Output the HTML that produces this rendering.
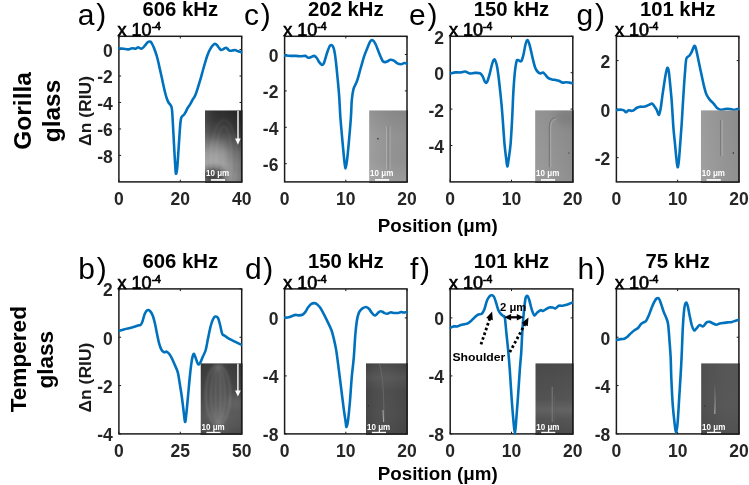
<!DOCTYPE html>
<html><head><meta charset="utf-8"><style>
html,body{margin:0;padding:0;background:#fff;}
svg{display:block;will-change:transform;}
text{font-family:"Liberation Sans",sans-serif;fill:#000;}
.tk{font-size:17.5px;font-weight:bold;fill:#262626;}
.ex{font-size:18px;fill:#000;stroke:#000;stroke-width:0.7px;}
.ti{font-size:20.3px;font-weight:bold;}
.lt{font-size:30px;}
.yl{font-size:17px;font-weight:bold;fill:#1a1a1a;}
.rl{font-size:24.5px;font-weight:bold;}
.rl2{font-size:22.6px;font-weight:bold;}
.xl{font-size:18.8px;font-weight:bold;fill:#000;}
.an{font-size:11.6px;font-weight:bold;}
.sb{font-size:9.2px;font-weight:bold;fill:#fff;}
.an2{font-size:11.5px;font-weight:bold;}
</style></head><body>
<svg width="749" height="485" viewBox="0 0 749 485">
<defs>
<clipPath id="clipa"><rect x="118.30" y="33.30" width="124.00" height="150.10"/></clipPath>
<clipPath id="ica"><rect x="205.00" y="110.30" width="36.70" height="71.60"/></clipPath>
<clipPath id="clipc"><rect x="284.00" y="33.30" width="123.60" height="150.10"/></clipPath>
<clipPath id="icc"><rect x="369.10" y="110.30" width="37.90" height="71.60"/></clipPath>
<clipPath id="clipe"><rect x="449.60" y="33.30" width="123.80" height="150.10"/></clipPath>
<clipPath id="ice"><rect x="535.10" y="110.20" width="37.70" height="71.70"/></clipPath>
<clipPath id="clipg"><rect x="615.80" y="33.30" width="123.70" height="150.10"/></clipPath>
<clipPath id="icg"><rect x="700.80" y="110.20" width="38.10" height="71.70"/></clipPath>
<clipPath id="clipb"><rect x="118.30" y="285.90" width="124.00" height="149.50"/></clipPath>
<clipPath id="icb"><rect x="200.50" y="363.20" width="41.20" height="70.70"/></clipPath>
<clipPath id="clipd"><rect x="284.00" y="285.90" width="123.60" height="149.50"/></clipPath>
<clipPath id="icd"><rect x="366.00" y="363.20" width="41.00" height="70.70"/></clipPath>
<clipPath id="clipf"><rect x="449.60" y="285.90" width="123.80" height="149.50"/></clipPath>
<clipPath id="icf"><rect x="535.30" y="363.20" width="37.50" height="70.70"/></clipPath>
<clipPath id="cliph"><rect x="615.80" y="285.90" width="123.70" height="149.50"/></clipPath>
<clipPath id="ich"><rect x="701.10" y="363.20" width="37.80" height="70.70"/></clipPath>
<linearGradient id="ga" x1="0" y1="0" x2="0" y2="1"><stop offset="0" stop-color="#2e2e2e"/><stop offset="0.15" stop-color="#363636"/><stop offset="0.3" stop-color="#484848"/><stop offset="0.45" stop-color="#6a6a6a"/><stop offset="0.6" stop-color="#8c8c8c"/><stop offset="0.75" stop-color="#a0a0a0"/><stop offset="0.9" stop-color="#a4a4a4"/><stop offset="1" stop-color="#969696"/></linearGradient><linearGradient id="gax" x1="0" y1="0" x2="1" y2="0"><stop offset="0" stop-color="#fff" stop-opacity="0.10"/><stop offset="0.5" stop-color="#000" stop-opacity="0"/><stop offset="1" stop-color="#000" stop-opacity="0.22"/></linearGradient>
<linearGradient id="gc" x1="0" y1="0" x2="0" y2="1"><stop offset="0" stop-color="#8a8a8a"/><stop offset="0.35" stop-color="#969696"/><stop offset="0.7" stop-color="#959595"/><stop offset="1" stop-color="#a0a0a0"/></linearGradient><linearGradient id="gcx" x1="0" y1="0" x2="1" y2="0"><stop offset="0" stop-color="#fff" stop-opacity="0.08"/><stop offset="1" stop-color="#000" stop-opacity="0.04"/></linearGradient>
<linearGradient id="ge" x1="0" y1="0" x2="0" y2="1"><stop offset="0" stop-color="#8e8e8e"/><stop offset="0.5" stop-color="#939393"/><stop offset="1" stop-color="#979797"/></linearGradient><linearGradient id="gex" x1="0" y1="0" x2="1" y2="0"><stop offset="0" stop-color="#fff" stop-opacity="0.05"/><stop offset="1" stop-color="#000" stop-opacity="0.06"/></linearGradient>
<linearGradient id="gg" x1="0" y1="0" x2="0" y2="1"><stop offset="0" stop-color="#959595"/><stop offset="1" stop-color="#999"/></linearGradient><linearGradient id="ggx" x1="0" y1="0" x2="1" y2="0"><stop offset="0" stop-color="#fff" stop-opacity="0.07"/><stop offset="1" stop-color="#000" stop-opacity="0.06"/></linearGradient>
<linearGradient id="gb" x1="0" y1="0" x2="0" y2="1"><stop offset="0" stop-color="#383838"/><stop offset="0.2" stop-color="#404040"/><stop offset="0.5" stop-color="#4c4c4c"/><stop offset="0.75" stop-color="#5a5a5a"/><stop offset="0.9" stop-color="#555"/><stop offset="1" stop-color="#4c4c4c"/></linearGradient><linearGradient id="gbx" x1="0" y1="0" x2="1" y2="0"><stop offset="0" stop-color="#000" stop-opacity="0.05"/><stop offset="0.5" stop-color="#fff" stop-opacity="0.06"/><stop offset="1" stop-color="#000" stop-opacity="0.02"/></linearGradient>
<linearGradient id="gd" x1="0" y1="0" x2="0" y2="1"><stop offset="0" stop-color="#454545"/><stop offset="0.2" stop-color="#555"/><stop offset="0.4" stop-color="#4a4a4a"/><stop offset="0.7" stop-color="#4c4c4c"/><stop offset="1" stop-color="#474747"/></linearGradient><linearGradient id="gdx" x1="0" y1="0" x2="1" y2="0"><stop offset="0" stop-color="#000" stop-opacity="0.08"/><stop offset="0.5" stop-color="#fff" stop-opacity="0.03"/><stop offset="1" stop-color="#000" stop-opacity="0.03"/></linearGradient>
<linearGradient id="gf" x1="0" y1="0" x2="0" y2="1"><stop offset="0" stop-color="#4c4c4c"/><stop offset="0.5" stop-color="#555"/><stop offset="0.66" stop-color="#646464"/><stop offset="0.8" stop-color="#555"/><stop offset="1" stop-color="#4c4c4c"/></linearGradient><linearGradient id="gfx" x1="0" y1="0" x2="1" y2="0"><stop offset="0" stop-color="#000" stop-opacity="0.04"/><stop offset="1" stop-color="#000" stop-opacity="0.0"/></linearGradient>
<linearGradient id="gh" x1="0" y1="0" x2="0" y2="1"><stop offset="0" stop-color="#535353"/><stop offset="0.6" stop-color="#555"/><stop offset="1" stop-color="#4e4e4e"/></linearGradient><linearGradient id="ghx" x1="0" y1="0" x2="1" y2="0"><stop offset="0" stop-color="#000" stop-opacity="0.06"/><stop offset="1" stop-color="#fff" stop-opacity="0.02"/></linearGradient>
<linearGradient id="ghl" x1="0" y1="0" x2="0" y2="1"><stop offset="0" stop-color="#5a5a5a"/><stop offset="1" stop-color="#aaa"/></linearGradient>
<filter id="blur1" x="-20%" y="-20%" width="140%" height="140%"><feGaussianBlur stdDeviation="0.8"/></filter><filter id="blur2" x="-50%" y="-50%" width="200%" height="200%"><feGaussianBlur stdDeviation="3"/></filter>
</defs>
<rect width="749" height="485" fill="#fff"/>
<text x="0" y="0"></text>
<line x1="118.90" y1="181.90" x2="118.90" y2="179.70" stroke="#1c1c1c" stroke-width="1"/>
<line x1="118.90" y1="36.30" x2="118.90" y2="38.50" stroke="#1c1c1c" stroke-width="1"/>
<text x="118.90" y="205.20" text-anchor="middle" class="tk">0</text>
<line x1="180.30" y1="181.90" x2="180.30" y2="179.70" stroke="#1c1c1c" stroke-width="1"/>
<line x1="180.30" y1="36.30" x2="180.30" y2="38.50" stroke="#1c1c1c" stroke-width="1"/>
<text x="180.30" y="205.20" text-anchor="middle" class="tk">20</text>
<line x1="241.70" y1="181.90" x2="241.70" y2="179.70" stroke="#1c1c1c" stroke-width="1"/>
<line x1="241.70" y1="36.30" x2="241.70" y2="38.50" stroke="#1c1c1c" stroke-width="1"/>
<text x="241.70" y="205.20" text-anchor="middle" class="tk">40</text>
<line x1="118.90" y1="49.54" x2="121.10" y2="49.54" stroke="#1c1c1c" stroke-width="1"/>
<line x1="241.70" y1="49.54" x2="239.50" y2="49.54" stroke="#1c1c1c" stroke-width="1"/>
<text x="112.70" y="56.94" text-anchor="end" class="tk">0</text>
<line x1="118.90" y1="76.01" x2="121.10" y2="76.01" stroke="#1c1c1c" stroke-width="1"/>
<line x1="241.70" y1="76.01" x2="239.50" y2="76.01" stroke="#1c1c1c" stroke-width="1"/>
<text x="112.70" y="83.41" text-anchor="end" class="tk">-2</text>
<line x1="118.90" y1="102.48" x2="121.10" y2="102.48" stroke="#1c1c1c" stroke-width="1"/>
<line x1="241.70" y1="102.48" x2="239.50" y2="102.48" stroke="#1c1c1c" stroke-width="1"/>
<text x="112.70" y="109.88" text-anchor="end" class="tk">-4</text>
<line x1="118.90" y1="128.95" x2="121.10" y2="128.95" stroke="#1c1c1c" stroke-width="1"/>
<line x1="241.70" y1="128.95" x2="239.50" y2="128.95" stroke="#1c1c1c" stroke-width="1"/>
<text x="112.70" y="136.35" text-anchor="end" class="tk">-6</text>
<line x1="118.90" y1="155.43" x2="121.10" y2="155.43" stroke="#1c1c1c" stroke-width="1"/>
<line x1="241.70" y1="155.43" x2="239.50" y2="155.43" stroke="#1c1c1c" stroke-width="1"/>
<text x="112.70" y="162.83" text-anchor="end" class="tk">-8</text>
<rect x="118.90" y="36.30" width="122.80" height="145.60" fill="none" stroke="#1c1c1c" stroke-width="1.5"/>
<path d="M118.50,48.20 C119.08,48.27 120.83,48.47 122.00,48.60 C123.17,48.73 124.38,48.87 125.50,49.00 C126.62,49.13 127.78,49.47 128.70,49.40 C129.62,49.33 130.28,48.78 131.00,48.60 C131.72,48.42 132.25,48.27 133.00,48.30 C133.75,48.33 134.70,48.95 135.50,48.80 C136.30,48.65 137.13,47.55 137.80,47.40 C138.47,47.25 138.93,47.67 139.50,47.90 C140.07,48.13 140.55,48.88 141.20,48.80 C141.85,48.72 142.68,48.07 143.40,47.40 C144.12,46.73 144.83,45.60 145.50,44.80 C146.17,44.00 146.77,43.13 147.40,42.60 C148.03,42.07 148.73,41.73 149.30,41.60 C149.87,41.47 150.35,41.43 150.80,41.80 C151.25,42.17 151.53,42.93 152.00,43.80 C152.47,44.67 153.05,45.72 153.60,47.00 C154.15,48.28 154.75,49.92 155.30,51.50 C155.85,53.08 156.40,54.75 156.90,56.50 C157.40,58.25 157.85,60.08 158.30,62.00 C158.75,63.92 159.15,66.00 159.60,68.00 C160.05,70.00 160.53,71.92 161.00,74.00 C161.47,76.08 161.93,78.33 162.40,80.50 C162.87,82.67 163.33,84.92 163.80,87.00 C164.27,89.08 164.70,91.08 165.20,93.00 C165.70,94.92 166.25,96.92 166.80,98.50 C167.35,100.08 167.92,101.45 168.50,102.50 C169.08,103.55 169.80,104.05 170.30,104.80 C170.80,105.55 171.18,105.80 171.50,107.00 C171.82,108.20 171.98,109.50 172.20,112.00 C172.42,114.50 172.58,118.17 172.80,122.00 C173.02,125.83 173.25,130.33 173.50,135.00 C173.75,139.67 174.02,145.00 174.30,150.00 C174.58,155.00 174.93,161.05 175.20,165.00 C175.47,168.95 175.57,173.20 175.90,173.70 C176.23,174.20 176.77,171.95 177.20,168.00 C177.63,164.05 178.08,156.00 178.50,150.00 C178.92,144.00 179.37,136.67 179.70,132.00 C180.03,127.33 180.23,124.40 180.50,122.00 C180.77,119.60 180.95,118.63 181.30,117.60 C181.65,116.57 182.12,116.32 182.60,115.80 C183.08,115.28 183.70,115.10 184.20,114.50 C184.70,113.90 185.08,113.18 185.60,112.20 C186.12,111.22 186.70,109.67 187.30,108.60 C187.90,107.53 188.62,106.70 189.20,105.80 C189.78,104.90 190.25,104.20 190.80,103.20 C191.35,102.20 191.93,100.78 192.50,99.80 C193.07,98.82 193.67,98.22 194.20,97.30 C194.73,96.38 195.20,95.55 195.70,94.30 C196.20,93.05 196.65,91.52 197.20,89.80 C197.75,88.08 198.37,86.08 199.00,84.00 C199.63,81.92 200.33,79.63 201.00,77.30 C201.67,74.97 202.33,72.38 203.00,70.00 C203.67,67.62 204.33,65.25 205.00,63.00 C205.67,60.75 206.30,58.50 207.00,56.50 C207.70,54.50 208.45,52.58 209.20,51.00 C209.95,49.42 210.70,48.12 211.50,47.00 C212.30,45.88 213.33,44.80 214.00,44.30 C214.67,43.80 215.00,43.85 215.50,44.00 C216.00,44.15 216.42,44.57 217.00,45.20 C217.58,45.83 218.37,47.03 219.00,47.80 C219.63,48.57 220.22,49.50 220.80,49.80 C221.38,50.10 221.88,49.85 222.50,49.60 C223.12,49.35 223.92,48.60 224.50,48.30 C225.08,48.00 225.50,47.72 226.00,47.80 C226.50,47.88 227.00,48.38 227.50,48.80 C228.00,49.22 228.42,49.97 229.00,50.30 C229.58,50.63 230.33,50.78 231.00,50.80 C231.67,50.82 232.33,50.53 233.00,50.40 C233.67,50.27 234.25,49.90 235.00,50.00 C235.75,50.10 236.67,50.70 237.50,51.00 C238.33,51.30 239.28,51.60 240.00,51.80 C240.72,52.00 241.50,52.13 241.80,52.20" fill="none" stroke="#0072BD" stroke-width="2.6" stroke-linejoin="round" stroke-linecap="round" clip-path="url(#clipa)"/>
<g class="inset" clip-path="url(#ica)">
<rect x="205.00" y="110.30" width="36.70" height="71.60" fill="url(#ga)"/>
<rect x="205.00" y="110.30" width="36.70" height="71.60" fill="url(#gax)"/>
<ellipse cx="213" cy="176" rx="12" ry="8" fill="#1a1a1a" fill-opacity="0.7" filter="url(#blur2)"/><ellipse cx="216" cy="152" rx="9" ry="12" fill="#fff" fill-opacity="0.12" filter="url(#blur2)"/><rect x="232" y="125" width="10" height="50" fill="#000" fill-opacity="0.10" filter="url(#blur2)"/><g fill="none" stroke="#fff" stroke-opacity="0.12" stroke-width="1.2" filter="url(#blur1)"><ellipse cx="224" cy="160" rx="13" ry="40"/><ellipse cx="224" cy="160" rx="8" ry="34"/></g><line x1="238.0" y1="110.8" x2="238.0" y2="139.5" stroke="#fff" stroke-width="1.4"/><polygon points="235.1,138.6 240.7,138.6 237.9,144.8" fill="#fff"/>
<text x="206.00" y="176.10" class="sb" textLength="23.2" lengthAdjust="spacingAndGlyphs">10 μm</text>
<rect x="210.90" y="179.10" width="14.10" height="1.7" fill="#fff"/>
</g>
<path d="M241.70,110.30 L241.70,181.90 L205.00,181.90" fill="none" stroke="#1c1c1c" stroke-width="1.5"/>
<text x="117.60" y="36.00" class="ex">x 10<tspan font-size="10.5" dy="-5.8">-4</tspan></text>
<text x="180.30" y="15.60" text-anchor="middle" class="ti">606 kHz</text>
<text x="77.80" y="24.90" class="lt">a<tspan dx="1.7">)</tspan></text>
<line x1="284.60" y1="181.90" x2="284.60" y2="179.70" stroke="#1c1c1c" stroke-width="1"/>
<line x1="284.60" y1="36.30" x2="284.60" y2="38.50" stroke="#1c1c1c" stroke-width="1"/>
<text x="284.60" y="205.20" text-anchor="middle" class="tk">0</text>
<line x1="345.80" y1="181.90" x2="345.80" y2="179.70" stroke="#1c1c1c" stroke-width="1"/>
<line x1="345.80" y1="36.30" x2="345.80" y2="38.50" stroke="#1c1c1c" stroke-width="1"/>
<text x="345.80" y="205.20" text-anchor="middle" class="tk">10</text>
<line x1="407.00" y1="181.90" x2="407.00" y2="179.70" stroke="#1c1c1c" stroke-width="1"/>
<line x1="407.00" y1="36.30" x2="407.00" y2="38.50" stroke="#1c1c1c" stroke-width="1"/>
<text x="407.00" y="205.20" text-anchor="middle" class="tk">20</text>
<line x1="284.60" y1="54.50" x2="286.80" y2="54.50" stroke="#1c1c1c" stroke-width="1"/>
<line x1="407.00" y1="54.50" x2="404.80" y2="54.50" stroke="#1c1c1c" stroke-width="1"/>
<text x="278.40" y="61.90" text-anchor="end" class="tk">0</text>
<line x1="284.60" y1="90.90" x2="286.80" y2="90.90" stroke="#1c1c1c" stroke-width="1"/>
<line x1="407.00" y1="90.90" x2="404.80" y2="90.90" stroke="#1c1c1c" stroke-width="1"/>
<text x="278.40" y="98.30" text-anchor="end" class="tk">-2</text>
<line x1="284.60" y1="127.30" x2="286.80" y2="127.30" stroke="#1c1c1c" stroke-width="1"/>
<line x1="407.00" y1="127.30" x2="404.80" y2="127.30" stroke="#1c1c1c" stroke-width="1"/>
<text x="278.40" y="134.70" text-anchor="end" class="tk">-4</text>
<line x1="284.60" y1="163.70" x2="286.80" y2="163.70" stroke="#1c1c1c" stroke-width="1"/>
<line x1="407.00" y1="163.70" x2="404.80" y2="163.70" stroke="#1c1c1c" stroke-width="1"/>
<text x="278.40" y="171.10" text-anchor="end" class="tk">-6</text>
<rect x="284.60" y="36.30" width="122.40" height="145.60" fill="none" stroke="#1c1c1c" stroke-width="1.5"/>
<path d="M284.40,55.40 C285.42,55.48 288.60,55.82 290.50,55.90 C292.40,55.98 294.05,55.83 295.80,55.90 C297.55,55.97 299.40,56.30 301.00,56.30 C302.60,56.30 304.23,55.67 305.40,55.90 C306.57,56.13 307.12,57.48 308.00,57.70 C308.88,57.92 309.67,57.50 310.70,57.20 C311.73,56.90 313.18,55.77 314.20,55.90 C315.22,56.03 315.93,56.92 316.80,58.00 C317.67,59.08 318.53,61.23 319.40,62.40 C320.27,63.57 321.27,64.85 322.00,65.00 C322.73,65.15 323.22,64.47 323.80,63.30 C324.38,62.13 324.85,60.05 325.50,58.00 C326.15,55.95 326.97,53.03 327.70,51.00 C328.43,48.97 329.15,46.73 329.90,45.80 C330.65,44.87 331.52,44.82 332.20,45.40 C332.88,45.98 333.42,46.90 334.00,49.30 C334.58,51.70 335.12,55.13 335.70,59.80 C336.28,64.47 336.92,71.17 337.50,77.30 C338.08,83.43 338.72,89.90 339.20,96.60 C339.68,103.30 339.82,109.63 340.40,117.50 C340.98,125.37 342.03,136.50 342.70,143.80 C343.37,151.10 343.93,157.18 344.40,161.30 C344.87,165.42 345.08,168.50 345.50,168.50 C345.92,168.50 346.37,165.42 346.90,161.30 C347.43,157.18 348.03,151.10 348.70,143.80 C349.37,136.50 350.38,124.78 350.90,117.50 C351.42,110.22 351.35,104.90 351.80,100.10 C352.25,95.30 352.72,91.92 353.60,88.70 C354.48,85.48 355.93,84.17 357.10,80.80 C358.27,77.43 359.43,72.58 360.60,68.50 C361.77,64.42 362.93,59.80 364.10,56.30 C365.27,52.80 366.58,49.98 367.60,47.50 C368.62,45.02 369.38,42.62 370.20,41.40 C371.02,40.18 371.62,39.77 372.50,40.20 C373.38,40.63 374.42,41.90 375.50,44.00 C376.58,46.10 377.83,50.02 379.00,52.80 C380.17,55.58 381.48,59.15 382.50,60.70 C383.52,62.25 384.23,62.02 385.10,62.10 C385.97,62.18 386.82,61.58 387.70,61.20 C388.58,60.82 389.37,59.88 390.40,59.80 C391.43,59.72 392.73,60.12 393.90,60.70 C395.07,61.28 396.23,62.72 397.40,63.30 C398.57,63.88 399.73,64.25 400.90,64.20 C402.07,64.15 403.38,63.10 404.40,63.00 C405.42,62.90 406.57,63.50 407.00,63.60" fill="none" stroke="#0072BD" stroke-width="2.6" stroke-linejoin="round" stroke-linecap="round" clip-path="url(#clipc)"/>
<g class="inset" clip-path="url(#icc)">
<rect x="369.10" y="110.30" width="37.90" height="71.60" fill="url(#gc)"/>
<rect x="369.10" y="110.30" width="37.90" height="71.60" fill="url(#gcx)"/>
<line x1="386.6" y1="126.4" x2="386.6" y2="169.3" stroke="#b4b4b4" stroke-width="0.8"/><line x1="388.2" y1="126.4" x2="388.2" y2="169.3" stroke="#777" stroke-width="0.5"/><line x1="390.2" y1="126.4" x2="390.2" y2="169.3" stroke="#aaa" stroke-width="0.8"/><circle cx="377.9" cy="138.8" r="0.8" fill="#222"/>
<text x="370.10" y="176.10" class="sb" textLength="23.2" lengthAdjust="spacingAndGlyphs">10 μm</text>
<rect x="375.00" y="179.10" width="14.10" height="1.7" fill="#fff"/>
</g>
<path d="M407.00,110.30 L407.00,181.90 L369.10,181.90" fill="none" stroke="#1c1c1c" stroke-width="1.5"/>
<text x="283.30" y="36.00" class="ex">x 10<tspan font-size="10.5" dy="-5.8">-4</tspan></text>
<text x="345.80" y="15.60" text-anchor="middle" class="ti">202 kHz</text>
<text x="244.10" y="24.90" class="lt">c<tspan dx="1.7">)</tspan></text>
<line x1="450.20" y1="181.90" x2="450.20" y2="179.70" stroke="#1c1c1c" stroke-width="1"/>
<line x1="450.20" y1="36.30" x2="450.20" y2="38.50" stroke="#1c1c1c" stroke-width="1"/>
<text x="450.20" y="205.20" text-anchor="middle" class="tk">0</text>
<line x1="511.50" y1="181.90" x2="511.50" y2="179.70" stroke="#1c1c1c" stroke-width="1"/>
<line x1="511.50" y1="36.30" x2="511.50" y2="38.50" stroke="#1c1c1c" stroke-width="1"/>
<text x="511.50" y="205.20" text-anchor="middle" class="tk">10</text>
<line x1="572.80" y1="181.90" x2="572.80" y2="179.70" stroke="#1c1c1c" stroke-width="1"/>
<line x1="572.80" y1="36.30" x2="572.80" y2="38.50" stroke="#1c1c1c" stroke-width="1"/>
<text x="572.80" y="205.20" text-anchor="middle" class="tk">20</text>
<line x1="450.20" y1="36.30" x2="452.40" y2="36.30" stroke="#1c1c1c" stroke-width="1"/>
<line x1="572.80" y1="36.30" x2="570.60" y2="36.30" stroke="#1c1c1c" stroke-width="1"/>
<text x="444.00" y="43.70" text-anchor="end" class="tk">2</text>
<line x1="450.20" y1="72.70" x2="452.40" y2="72.70" stroke="#1c1c1c" stroke-width="1"/>
<line x1="572.80" y1="72.70" x2="570.60" y2="72.70" stroke="#1c1c1c" stroke-width="1"/>
<text x="444.00" y="80.10" text-anchor="end" class="tk">0</text>
<line x1="450.20" y1="109.10" x2="452.40" y2="109.10" stroke="#1c1c1c" stroke-width="1"/>
<line x1="572.80" y1="109.10" x2="570.60" y2="109.10" stroke="#1c1c1c" stroke-width="1"/>
<text x="444.00" y="116.50" text-anchor="end" class="tk">-2</text>
<line x1="450.20" y1="145.50" x2="452.40" y2="145.50" stroke="#1c1c1c" stroke-width="1"/>
<line x1="572.80" y1="145.50" x2="570.60" y2="145.50" stroke="#1c1c1c" stroke-width="1"/>
<text x="444.00" y="152.90" text-anchor="end" class="tk">-4</text>
<rect x="450.20" y="36.30" width="122.60" height="145.60" fill="none" stroke="#1c1c1c" stroke-width="1.5"/>
<path d="M450.60,73.40 C451.42,73.23 453.80,72.57 455.50,72.40 C457.20,72.23 459.20,72.55 460.80,72.40 C462.40,72.25 463.65,71.33 465.10,71.50 C466.55,71.67 467.88,73.17 469.50,73.40 C471.12,73.63 473.05,72.92 474.80,72.90 C476.55,72.88 478.68,72.72 480.00,73.30 C481.32,73.88 481.88,75.00 482.70,76.40 C483.52,77.80 484.18,80.73 484.90,81.70 C485.62,82.67 486.20,83.52 487.00,82.20 C487.80,80.88 488.82,76.95 489.70,73.80 C490.58,70.65 491.48,65.70 492.30,63.30 C493.12,60.90 493.87,59.12 494.60,59.40 C495.33,59.68 496.07,62.32 496.70,65.00 C497.33,67.68 497.82,71.12 498.40,75.50 C498.98,79.88 499.70,86.72 500.20,91.30 C500.70,95.88 501.00,98.63 501.40,103.00 C501.80,107.37 502.08,110.70 502.60,117.50 C503.12,124.30 503.88,136.78 504.50,143.80 C505.12,150.82 505.83,155.83 506.30,159.60 C506.77,163.37 506.95,166.17 507.30,166.40 C507.65,166.63 507.85,164.77 508.40,161.00 C508.95,157.23 509.97,151.05 510.60,143.80 C511.23,136.55 511.75,125.95 512.20,117.50 C512.65,109.05 512.88,100.38 513.30,93.10 C513.72,85.82 514.17,79.07 514.70,73.80 C515.23,68.53 515.92,63.78 516.50,61.50 C517.08,59.22 517.42,60.15 518.20,60.10 C518.98,60.05 520.32,62.13 521.20,61.20 C522.08,60.27 522.77,57.37 523.50,54.50 C524.23,51.63 524.90,46.38 525.60,44.00 C526.30,41.62 526.97,39.77 527.70,40.20 C528.43,40.63 529.18,43.63 530.00,46.60 C530.82,49.57 531.73,54.48 532.60,58.00 C533.47,61.52 534.32,65.37 535.20,67.70 C536.08,70.03 537.02,71.05 537.90,72.00 C538.78,72.95 539.63,73.30 540.50,73.40 C541.37,73.50 542.23,72.30 543.10,72.60 C543.97,72.90 544.82,74.27 545.70,75.20 C546.58,76.13 547.37,77.50 548.40,78.20 C549.43,78.90 550.73,79.12 551.90,79.40 C553.07,79.68 554.23,79.67 555.40,79.90 C556.57,80.13 557.73,80.35 558.90,80.80 C560.07,81.25 561.23,82.37 562.40,82.60 C563.57,82.83 564.73,82.20 565.90,82.20 C567.07,82.20 568.38,82.45 569.40,82.60 C570.42,82.75 571.57,83.02 572.00,83.10" fill="none" stroke="#0072BD" stroke-width="2.6" stroke-linejoin="round" stroke-linecap="round" clip-path="url(#clipe)"/>
<g class="inset" clip-path="url(#ice)">
<rect x="535.10" y="110.20" width="37.70" height="71.70" fill="url(#ge)"/>
<rect x="535.10" y="110.20" width="37.70" height="71.70" fill="url(#gex)"/>
<path d="M549.3,167 L549.3,126 Q549.6,119 555,117.5" fill="none" stroke="#666" stroke-width="0.7"/><path d="M550.7,167 L550.7,126 Q551,120.5 556,119" fill="none" stroke="#b0b0b0" stroke-width="0.8"/><ellipse cx="565" cy="118" rx="10" ry="8" fill="#000" fill-opacity="0.07" filter="url(#blur2)"/><circle cx="568.9" cy="153" r="0.6" fill="#222"/>
<text x="536.10" y="176.10" class="sb" textLength="23.2" lengthAdjust="spacingAndGlyphs">10 μm</text>
<rect x="541.00" y="179.10" width="14.10" height="1.7" fill="#fff"/>
</g>
<path d="M572.80,110.20 L572.80,181.90 L535.10,181.90" fill="none" stroke="#1c1c1c" stroke-width="1.5"/>
<text x="448.90" y="36.00" class="ex">x 10<tspan font-size="10.5" dy="-5.8">-4</tspan></text>
<text x="511.50" y="15.60" text-anchor="middle" class="ti">150 kHz</text>
<text x="409.10" y="24.90" class="lt">e<tspan dx="1.7">)</tspan></text>
<line x1="616.40" y1="181.90" x2="616.40" y2="179.70" stroke="#1c1c1c" stroke-width="1"/>
<line x1="616.40" y1="36.30" x2="616.40" y2="38.50" stroke="#1c1c1c" stroke-width="1"/>
<text x="616.40" y="205.20" text-anchor="middle" class="tk">0</text>
<line x1="677.65" y1="181.90" x2="677.65" y2="179.70" stroke="#1c1c1c" stroke-width="1"/>
<line x1="677.65" y1="36.30" x2="677.65" y2="38.50" stroke="#1c1c1c" stroke-width="1"/>
<text x="677.65" y="205.20" text-anchor="middle" class="tk">10</text>
<line x1="738.90" y1="181.90" x2="738.90" y2="179.70" stroke="#1c1c1c" stroke-width="1"/>
<line x1="738.90" y1="36.30" x2="738.90" y2="38.50" stroke="#1c1c1c" stroke-width="1"/>
<text x="738.90" y="205.20" text-anchor="middle" class="tk">20</text>
<line x1="616.40" y1="60.57" x2="618.60" y2="60.57" stroke="#1c1c1c" stroke-width="1"/>
<line x1="738.90" y1="60.57" x2="736.70" y2="60.57" stroke="#1c1c1c" stroke-width="1"/>
<text x="610.20" y="67.97" text-anchor="end" class="tk">2</text>
<line x1="616.40" y1="109.10" x2="618.60" y2="109.10" stroke="#1c1c1c" stroke-width="1"/>
<line x1="738.90" y1="109.10" x2="736.70" y2="109.10" stroke="#1c1c1c" stroke-width="1"/>
<text x="610.20" y="116.50" text-anchor="end" class="tk">0</text>
<line x1="616.40" y1="157.63" x2="618.60" y2="157.63" stroke="#1c1c1c" stroke-width="1"/>
<line x1="738.90" y1="157.63" x2="736.70" y2="157.63" stroke="#1c1c1c" stroke-width="1"/>
<text x="610.20" y="165.03" text-anchor="end" class="tk">-2</text>
<rect x="616.40" y="36.30" width="122.50" height="145.60" fill="none" stroke="#1c1c1c" stroke-width="1.5"/>
<path d="M616.40,110.20 C616.83,110.12 618.13,109.78 619.00,109.70 C619.87,109.62 620.72,109.55 621.60,109.70 C622.48,109.85 623.57,110.17 624.30,110.60 C625.03,111.03 625.28,112.37 626.00,112.30 C626.72,112.23 627.72,110.43 628.60,110.20 C629.48,109.97 630.42,110.90 631.30,110.90 C632.18,110.90 633.03,110.68 633.90,110.20 C634.77,109.72 635.48,108.58 636.50,108.00 C637.52,107.42 638.83,106.92 640.00,106.70 C641.17,106.48 642.33,106.87 643.50,106.70 C644.67,106.53 645.97,106.07 647.00,105.70 C648.03,105.33 648.88,104.85 649.70,104.50 C650.52,104.15 651.18,103.40 651.90,103.60 C652.62,103.80 653.20,104.65 654.00,105.70 C654.80,106.75 655.87,108.38 656.70,109.90 C657.53,111.42 658.32,115.20 659.00,114.80 C659.68,114.40 660.23,110.70 660.80,107.50 C661.37,104.30 661.88,99.27 662.40,95.60 C662.92,91.93 663.43,88.60 663.90,85.50 C664.37,82.40 664.77,79.50 665.20,77.00 C665.63,74.50 666.10,72.03 666.50,70.50 C666.90,68.97 667.22,67.63 667.60,67.80 C667.98,67.97 668.43,69.35 668.80,71.50 C669.17,73.65 669.47,77.45 669.80,80.70 C670.13,83.95 670.48,87.62 670.80,91.00 C671.12,94.38 671.40,97.00 671.70,101.00 C672.00,105.00 672.30,110.35 672.60,115.00 C672.90,119.65 673.10,124.08 673.50,128.90 C673.90,133.72 674.50,138.78 675.00,143.90 C675.50,149.02 676.07,155.72 676.50,159.60 C676.93,163.48 677.22,166.90 677.60,167.20 C677.98,167.50 678.37,165.28 678.80,161.40 C679.23,157.52 679.73,149.97 680.20,143.90 C680.67,137.83 681.17,131.48 681.60,125.00 C682.03,118.52 682.40,111.50 682.80,105.00 C683.20,98.50 683.60,91.83 684.00,86.00 C684.40,80.17 684.80,74.58 685.20,70.00 C685.60,65.42 685.72,60.88 686.40,58.50 C687.08,56.12 688.42,56.80 689.30,55.70 C690.18,54.60 690.87,53.55 691.70,51.90 C692.53,50.25 693.57,46.23 694.30,45.80 C695.03,45.37 695.37,46.68 696.10,49.30 C696.83,51.92 697.83,57.42 698.70,61.50 C699.57,65.58 700.42,69.70 701.30,73.80 C702.18,77.90 703.12,82.60 704.00,86.10 C704.88,89.60 705.58,92.47 706.60,94.80 C707.62,97.13 708.93,98.63 710.10,100.10 C711.27,101.57 712.43,102.28 713.60,103.60 C714.77,104.92 715.93,106.98 717.10,108.00 C718.27,109.02 719.43,109.50 720.60,109.70 C721.77,109.90 722.93,109.35 724.10,109.20 C725.27,109.05 726.43,108.80 727.60,108.80 C728.77,108.80 729.93,109.05 731.10,109.20 C732.27,109.35 733.37,109.77 734.60,109.70 C735.83,109.63 737.85,108.95 738.50,108.80" fill="none" stroke="#0072BD" stroke-width="2.6" stroke-linejoin="round" stroke-linecap="round" clip-path="url(#clipg)"/>
<g class="inset" clip-path="url(#icg)">
<rect x="700.80" y="110.20" width="38.10" height="71.70" fill="url(#gg)"/>
<rect x="700.80" y="110.20" width="38.10" height="71.70" fill="url(#ggx)"/>
<line x1="720.6" y1="120" x2="720.6" y2="156" stroke="#666" stroke-width="0.6"/><line x1="722.2" y1="120" x2="722.2" y2="156" stroke="#b0b0b0" stroke-width="0.9"/><circle cx="733.4" cy="153" r="0.7" fill="#222"/>
<text x="701.80" y="176.10" class="sb" textLength="23.2" lengthAdjust="spacingAndGlyphs">10 μm</text>
<rect x="706.70" y="179.10" width="14.10" height="1.7" fill="#fff"/>
</g>
<path d="M738.90,110.20 L738.90,181.90 L700.80,181.90" fill="none" stroke="#1c1c1c" stroke-width="1.5"/>
<text x="615.10" y="36.00" class="ex">x 10<tspan font-size="10.5" dy="-5.8">-4</tspan></text>
<text x="677.65" y="15.60" text-anchor="middle" class="ti">101 kHz</text>
<text x="576.60" y="24.90" class="lt">g<tspan dx="1.7">)</tspan></text>
<line x1="118.90" y1="433.90" x2="118.90" y2="431.70" stroke="#1c1c1c" stroke-width="1"/>
<line x1="118.90" y1="288.90" x2="118.90" y2="291.10" stroke="#1c1c1c" stroke-width="1"/>
<text x="118.90" y="457.20" text-anchor="middle" class="tk">0</text>
<line x1="180.30" y1="433.90" x2="180.30" y2="431.70" stroke="#1c1c1c" stroke-width="1"/>
<line x1="180.30" y1="288.90" x2="180.30" y2="291.10" stroke="#1c1c1c" stroke-width="1"/>
<text x="180.30" y="457.20" text-anchor="middle" class="tk">25</text>
<line x1="241.70" y1="433.90" x2="241.70" y2="431.70" stroke="#1c1c1c" stroke-width="1"/>
<line x1="241.70" y1="288.90" x2="241.70" y2="291.10" stroke="#1c1c1c" stroke-width="1"/>
<text x="241.70" y="457.20" text-anchor="middle" class="tk">50</text>
<line x1="118.90" y1="288.90" x2="121.10" y2="288.90" stroke="#1c1c1c" stroke-width="1"/>
<line x1="241.70" y1="288.90" x2="239.50" y2="288.90" stroke="#1c1c1c" stroke-width="1"/>
<text x="112.70" y="296.30" text-anchor="end" class="tk">2</text>
<line x1="118.90" y1="337.23" x2="121.10" y2="337.23" stroke="#1c1c1c" stroke-width="1"/>
<line x1="241.70" y1="337.23" x2="239.50" y2="337.23" stroke="#1c1c1c" stroke-width="1"/>
<text x="112.70" y="344.63" text-anchor="end" class="tk">0</text>
<line x1="118.90" y1="385.57" x2="121.10" y2="385.57" stroke="#1c1c1c" stroke-width="1"/>
<line x1="241.70" y1="385.57" x2="239.50" y2="385.57" stroke="#1c1c1c" stroke-width="1"/>
<text x="112.70" y="392.97" text-anchor="end" class="tk">-2</text>
<line x1="118.90" y1="433.90" x2="121.10" y2="433.90" stroke="#1c1c1c" stroke-width="1"/>
<line x1="241.70" y1="433.90" x2="239.50" y2="433.90" stroke="#1c1c1c" stroke-width="1"/>
<text x="112.70" y="441.30" text-anchor="end" class="tk">-4</text>
<rect x="118.90" y="288.90" width="122.80" height="145.00" fill="none" stroke="#1c1c1c" stroke-width="1.5"/>
<path d="M119.40,330.70 C120.13,330.48 122.20,329.82 123.80,329.40 C125.40,328.98 127.25,328.63 129.00,328.20 C130.75,327.77 132.83,327.23 134.30,326.80 C135.77,326.37 136.70,325.95 137.80,325.60 C138.90,325.25 140.08,325.52 140.90,324.70 C141.72,323.88 142.05,322.53 142.70,320.70 C143.35,318.87 144.02,315.45 144.80,313.70 C145.58,311.95 146.53,310.65 147.40,310.20 C148.27,309.75 149.12,310.13 150.00,311.00 C150.88,311.87 151.88,313.35 152.70,315.40 C153.52,317.45 154.18,320.23 154.90,323.30 C155.62,326.37 156.30,330.45 157.00,333.80 C157.70,337.15 158.37,340.77 159.10,343.40 C159.83,346.03 160.57,348.13 161.40,349.60 C162.23,351.07 163.22,351.85 164.10,352.20 C164.98,352.55 165.83,351.40 166.70,351.70 C167.57,352.00 168.43,352.90 169.30,354.00 C170.17,355.10 171.02,356.55 171.90,358.30 C172.78,360.05 173.62,362.17 174.60,364.50 C175.58,366.83 176.95,369.15 177.80,372.30 C178.65,375.45 179.08,379.70 179.70,383.40 C180.32,387.10 180.88,390.17 181.50,394.50 C182.12,398.83 182.82,404.85 183.40,409.40 C183.98,413.95 184.53,420.88 185.00,421.80 C185.47,422.72 185.70,419.13 186.20,414.90 C186.70,410.67 187.38,402.88 188.00,396.40 C188.62,389.92 189.28,381.88 189.90,376.00 C190.52,370.12 191.08,364.77 191.70,361.10 C192.32,357.43 192.97,354.62 193.60,354.00 C194.23,353.38 194.78,355.75 195.50,357.40 C196.22,359.05 197.13,362.97 197.90,363.90 C198.67,364.83 199.27,364.23 200.10,363.00 C200.93,361.77 201.97,358.67 202.90,356.50 C203.83,354.33 204.87,352.90 205.70,350.00 C206.53,347.10 207.10,342.97 207.90,339.10 C208.70,335.23 209.68,330.02 210.50,326.80 C211.32,323.58 212.02,321.50 212.80,319.80 C213.58,318.10 214.33,316.90 215.20,316.60 C216.07,316.30 217.18,316.60 218.00,318.00 C218.82,319.40 219.40,322.37 220.10,325.00 C220.80,327.63 221.47,332.03 222.20,333.80 C222.93,335.57 223.53,334.87 224.50,335.60 C225.47,336.33 226.83,337.48 228.00,338.20 C229.17,338.92 230.18,339.23 231.50,339.90 C232.82,340.57 234.30,341.40 235.90,342.20 C237.50,343.00 240.23,344.28 241.10,344.70" fill="none" stroke="#0072BD" stroke-width="2.6" stroke-linejoin="round" stroke-linecap="round" clip-path="url(#clipb)"/>
<g class="inset" clip-path="url(#icb)">
<rect x="200.50" y="363.20" width="41.20" height="70.70" fill="url(#gb)"/>
<rect x="200.50" y="363.20" width="41.20" height="70.70" fill="url(#gbx)"/>
<g fill="none" stroke="#fff" stroke-opacity="0.16" stroke-width="1.8" filter="url(#blur1)"><ellipse cx="218" cy="395" rx="12" ry="30"/><ellipse cx="218" cy="395" rx="7" ry="28"/><ellipse cx="218" cy="395" rx="2.5" ry="27"/></g><ellipse cx="236" cy="402" rx="8" ry="8" fill="#fff" fill-opacity="0.10" filter="url(#blur2)"/><line x1="237.9" y1="363.6" x2="237.9" y2="391.5" stroke="#fff" stroke-width="1.4"/><polygon points="235.0,390.4 240.8,390.4 237.9,396.6" fill="#fff"/>
<text x="201.50" y="430.10" class="sb" textLength="23.2" lengthAdjust="spacingAndGlyphs">10 μm</text>
<rect x="206.40" y="431.80" width="14.10" height="1.7" fill="#fff"/>
</g>
<path d="M241.70,363.20 L241.70,433.90 L200.50,433.90" fill="none" stroke="#1c1c1c" stroke-width="1.5"/>
<text x="117.60" y="288.60" class="ex">x 10<tspan font-size="10.5" dy="-5.8">-4</tspan></text>
<text x="180.30" y="268.20" text-anchor="middle" class="ti">606 kHz</text>
<text x="78.30" y="279.00" class="lt">b<tspan dx="1.7">)</tspan></text>
<line x1="284.60" y1="433.90" x2="284.60" y2="431.70" stroke="#1c1c1c" stroke-width="1"/>
<line x1="284.60" y1="288.90" x2="284.60" y2="291.10" stroke="#1c1c1c" stroke-width="1"/>
<text x="284.60" y="457.20" text-anchor="middle" class="tk">0</text>
<line x1="345.80" y1="433.90" x2="345.80" y2="431.70" stroke="#1c1c1c" stroke-width="1"/>
<line x1="345.80" y1="288.90" x2="345.80" y2="291.10" stroke="#1c1c1c" stroke-width="1"/>
<text x="345.80" y="457.20" text-anchor="middle" class="tk">10</text>
<line x1="407.00" y1="433.90" x2="407.00" y2="431.70" stroke="#1c1c1c" stroke-width="1"/>
<line x1="407.00" y1="288.90" x2="407.00" y2="291.10" stroke="#1c1c1c" stroke-width="1"/>
<text x="407.00" y="457.20" text-anchor="middle" class="tk">20</text>
<line x1="284.60" y1="317.90" x2="286.80" y2="317.90" stroke="#1c1c1c" stroke-width="1"/>
<line x1="407.00" y1="317.90" x2="404.80" y2="317.90" stroke="#1c1c1c" stroke-width="1"/>
<text x="278.40" y="325.30" text-anchor="end" class="tk">0</text>
<line x1="284.60" y1="375.90" x2="286.80" y2="375.90" stroke="#1c1c1c" stroke-width="1"/>
<line x1="407.00" y1="375.90" x2="404.80" y2="375.90" stroke="#1c1c1c" stroke-width="1"/>
<text x="278.40" y="383.30" text-anchor="end" class="tk">-4</text>
<line x1="284.60" y1="433.90" x2="286.80" y2="433.90" stroke="#1c1c1c" stroke-width="1"/>
<line x1="407.00" y1="433.90" x2="404.80" y2="433.90" stroke="#1c1c1c" stroke-width="1"/>
<text x="278.40" y="441.30" text-anchor="end" class="tk">-8</text>
<rect x="284.60" y="288.90" width="122.40" height="145.00" fill="none" stroke="#1c1c1c" stroke-width="1.5"/>
<path d="M284.40,317.70 C285.13,317.62 287.48,317.50 288.80,317.20 C290.12,316.90 291.13,316.28 292.30,315.90 C293.47,315.52 294.63,314.98 295.80,314.90 C296.97,314.82 298.13,315.47 299.30,315.40 C300.47,315.33 301.78,315.08 302.80,314.50 C303.82,313.92 304.53,313.07 305.40,311.90 C306.27,310.73 307.03,308.82 308.00,307.50 C308.97,306.18 310.17,304.73 311.20,304.00 C312.23,303.27 313.23,303.07 314.20,303.10 C315.17,303.13 316.12,303.58 317.00,304.20 C317.88,304.82 318.70,305.78 319.50,306.80 C320.30,307.82 320.95,308.83 321.80,310.30 C322.65,311.77 323.57,313.55 324.60,315.60 C325.63,317.65 326.85,320.15 328.00,322.60 C329.15,325.05 330.52,327.55 331.50,330.30 C332.48,333.05 333.13,335.88 333.90,339.10 C334.67,342.32 335.38,345.32 336.10,349.60 C336.82,353.88 337.38,358.55 338.20,364.80 C339.02,371.05 340.07,379.67 341.00,387.10 C341.93,394.53 343.03,403.67 343.80,409.40 C344.57,415.13 345.15,418.57 345.60,421.50 C346.05,424.43 346.10,427.17 346.50,427.00 C346.90,426.83 347.43,424.67 348.00,420.50 C348.57,416.33 349.28,409.12 349.90,402.00 C350.52,394.88 351.05,385.23 351.70,377.80 C352.35,370.37 353.20,364.53 353.80,357.40 C354.40,350.27 354.78,341.15 355.30,335.00 C355.82,328.85 356.35,324.08 356.90,320.50 C357.45,316.92 358.03,315.17 358.60,313.50 C359.17,311.83 359.65,311.37 360.30,310.50 C360.95,309.63 361.55,308.88 362.50,308.30 C363.45,307.72 364.88,306.88 366.00,307.00 C367.12,307.12 368.27,308.07 369.20,309.00 C370.13,309.93 370.88,311.63 371.60,312.60 C372.32,313.57 372.90,314.33 373.50,314.80 C374.10,315.27 374.62,315.53 375.20,315.40 C375.78,315.27 376.45,314.50 377.00,314.00 C377.55,313.50 377.92,312.85 378.50,312.40 C379.08,311.95 379.83,311.40 380.50,311.30 C381.17,311.20 381.83,311.50 382.50,311.80 C383.17,312.10 383.70,312.77 384.50,313.10 C385.30,313.43 386.47,313.85 387.30,313.80 C388.13,313.75 388.90,313.03 389.50,312.80 C390.10,312.57 390.35,312.40 390.90,312.40 C391.45,312.40 392.13,312.70 392.80,312.80 C393.47,312.90 394.02,312.97 394.90,313.00 C395.78,313.03 397.28,313.10 398.10,313.00 C398.92,312.90 399.27,312.57 399.80,312.40 C400.33,312.23 400.68,311.98 401.30,312.00 C401.92,312.02 402.70,312.47 403.50,312.50 C404.30,312.53 405.52,312.28 406.10,312.20 C406.68,312.12 406.85,312.03 407.00,312.00" fill="none" stroke="#0072BD" stroke-width="2.6" stroke-linejoin="round" stroke-linecap="round" clip-path="url(#clipd)"/>
<g class="inset" clip-path="url(#icd)">
<rect x="366.00" y="363.20" width="41.00" height="70.70" fill="url(#gd)"/>
<rect x="366.00" y="363.20" width="41.00" height="70.70" fill="url(#gdx)"/>
<path d="M379.5,364 Q384,378 384,422" fill="none" stroke="#6a6a6a" stroke-width="0.9"/><path d="M383,410 L383.5,422" stroke="#aaa" stroke-width="1"/><circle cx="368.5" cy="406" r="0.6" fill="#222"/>
<text x="367.00" y="430.10" class="sb" textLength="23.2" lengthAdjust="spacingAndGlyphs">10 μm</text>
<rect x="371.90" y="431.80" width="14.10" height="1.7" fill="#fff"/>
</g>
<path d="M407.00,363.20 L407.00,433.90 L366.00,433.90" fill="none" stroke="#1c1c1c" stroke-width="1.5"/>
<text x="283.30" y="288.60" class="ex">x 10<tspan font-size="10.5" dy="-5.8">-4</tspan></text>
<text x="345.80" y="268.20" text-anchor="middle" class="ti">150 kHz</text>
<text x="244.90" y="279.00" class="lt">d<tspan dx="1.7">)</tspan></text>
<line x1="450.20" y1="433.90" x2="450.20" y2="431.70" stroke="#1c1c1c" stroke-width="1"/>
<line x1="450.20" y1="288.90" x2="450.20" y2="291.10" stroke="#1c1c1c" stroke-width="1"/>
<text x="450.20" y="457.20" text-anchor="middle" class="tk">0</text>
<line x1="511.50" y1="433.90" x2="511.50" y2="431.70" stroke="#1c1c1c" stroke-width="1"/>
<line x1="511.50" y1="288.90" x2="511.50" y2="291.10" stroke="#1c1c1c" stroke-width="1"/>
<text x="511.50" y="457.20" text-anchor="middle" class="tk">10</text>
<line x1="572.80" y1="433.90" x2="572.80" y2="431.70" stroke="#1c1c1c" stroke-width="1"/>
<line x1="572.80" y1="288.90" x2="572.80" y2="291.10" stroke="#1c1c1c" stroke-width="1"/>
<text x="572.80" y="457.20" text-anchor="middle" class="tk">20</text>
<line x1="450.20" y1="317.90" x2="452.40" y2="317.90" stroke="#1c1c1c" stroke-width="1"/>
<line x1="572.80" y1="317.90" x2="570.60" y2="317.90" stroke="#1c1c1c" stroke-width="1"/>
<text x="444.00" y="325.30" text-anchor="end" class="tk">0</text>
<line x1="450.20" y1="375.90" x2="452.40" y2="375.90" stroke="#1c1c1c" stroke-width="1"/>
<line x1="572.80" y1="375.90" x2="570.60" y2="375.90" stroke="#1c1c1c" stroke-width="1"/>
<text x="444.00" y="383.30" text-anchor="end" class="tk">-4</text>
<line x1="450.20" y1="433.90" x2="452.40" y2="433.90" stroke="#1c1c1c" stroke-width="1"/>
<line x1="572.80" y1="433.90" x2="570.60" y2="433.90" stroke="#1c1c1c" stroke-width="1"/>
<text x="444.00" y="441.30" text-anchor="end" class="tk">-8</text>
<rect x="450.20" y="288.90" width="122.60" height="145.00" fill="none" stroke="#1c1c1c" stroke-width="1.5"/>
<path d="M450.60,327.70 C451.13,327.48 452.68,326.62 453.80,326.40 C454.92,326.18 456.13,326.63 457.30,326.40 C458.47,326.17 459.63,325.37 460.80,325.00 C461.97,324.63 463.13,324.48 464.30,324.20 C465.47,323.92 466.63,323.88 467.80,323.30 C468.97,322.72 470.13,321.72 471.30,320.70 C472.47,319.68 473.63,318.23 474.80,317.20 C475.97,316.17 477.13,315.08 478.30,314.50 C479.47,313.92 480.78,314.57 481.80,313.70 C482.82,312.83 483.53,311.50 484.40,309.30 C485.27,307.10 486.12,302.70 487.00,300.50 C487.88,298.30 488.87,296.97 489.70,296.10 C490.53,295.23 491.27,295.15 492.00,295.30 C492.73,295.45 493.40,295.70 494.10,297.00 C494.80,298.30 495.48,300.90 496.20,303.10 C496.92,305.30 497.58,308.35 498.40,310.20 C499.22,312.05 500.22,313.18 501.10,314.20 C501.98,315.22 503.07,315.67 503.70,316.30 C504.33,316.93 504.47,315.37 504.90,318.00 C505.33,320.63 505.77,326.83 506.30,332.10 C506.83,337.37 507.53,343.52 508.10,349.60 C508.67,355.68 509.13,360.80 509.70,368.60 C510.27,376.40 510.88,387.75 511.50,396.40 C512.12,405.05 512.83,414.30 513.40,420.50 C513.97,426.70 514.43,433.60 514.90,433.60 C515.37,433.60 515.68,426.70 516.20,420.50 C516.72,414.30 517.38,405.05 518.00,396.40 C518.62,387.75 519.37,375.82 519.90,368.60 C520.43,361.38 520.83,358.60 521.20,353.10 C521.57,347.60 521.75,341.45 522.10,335.60 C522.45,329.75 522.87,323.27 523.30,318.00 C523.73,312.73 524.27,307.50 524.70,304.00 C525.13,300.50 525.40,298.32 525.90,297.00 C526.40,295.68 527.12,295.52 527.70,296.10 C528.28,296.68 528.73,298.30 529.40,300.50 C530.07,302.70 530.88,306.82 531.70,309.30 C532.52,311.78 533.42,314.82 534.30,315.40 C535.18,315.98 535.97,313.67 537.00,312.80 C538.03,311.93 539.48,310.50 540.50,310.20 C541.52,309.90 542.23,311.15 543.10,311.00 C543.97,310.85 544.68,309.88 545.70,309.30 C546.72,308.72 548.03,307.80 549.20,307.50 C550.37,307.20 551.67,307.35 552.70,307.50 C553.73,307.65 554.37,308.68 555.40,308.40 C556.43,308.12 557.73,306.23 558.90,305.80 C560.07,305.37 561.23,305.95 562.40,305.80 C563.57,305.65 564.73,305.25 565.90,304.90 C567.07,304.55 568.38,304.08 569.40,303.70 C570.42,303.32 571.57,302.78 572.00,302.60" fill="none" stroke="#0072BD" stroke-width="2.6" stroke-linejoin="round" stroke-linecap="round" clip-path="url(#clipf)"/>
<g class="inset" clip-path="url(#icf)">
<rect x="535.30" y="363.20" width="37.50" height="70.70" fill="url(#gf)"/>
<rect x="535.30" y="363.20" width="37.50" height="70.70" fill="url(#gfx)"/>
<line x1="552.2" y1="387" x2="552.2" y2="422" stroke="#7c7c7c" stroke-width="1"/><line x1="554.6" y1="395" x2="554.6" y2="422" stroke="#666" stroke-width="0.6"/>
<text x="536.30" y="430.10" class="sb" textLength="23.2" lengthAdjust="spacingAndGlyphs">10 μm</text>
<rect x="541.20" y="431.80" width="14.10" height="1.7" fill="#fff"/>
</g>
<path d="M572.80,363.20 L572.80,433.90 L535.30,433.90" fill="none" stroke="#1c1c1c" stroke-width="1.5"/>
<text x="448.90" y="288.60" class="ex">x 10<tspan font-size="10.5" dy="-5.8">-4</tspan></text>
<text x="511.50" y="268.20" text-anchor="middle" class="ti">101 kHz</text>
<text x="410.00" y="279.00" class="lt">f<tspan dx="1.7">)</tspan></text>
<line x1="616.40" y1="433.90" x2="616.40" y2="431.70" stroke="#1c1c1c" stroke-width="1"/>
<line x1="616.40" y1="288.90" x2="616.40" y2="291.10" stroke="#1c1c1c" stroke-width="1"/>
<text x="616.40" y="457.20" text-anchor="middle" class="tk">0</text>
<line x1="677.65" y1="433.90" x2="677.65" y2="431.70" stroke="#1c1c1c" stroke-width="1"/>
<line x1="677.65" y1="288.90" x2="677.65" y2="291.10" stroke="#1c1c1c" stroke-width="1"/>
<text x="677.65" y="457.20" text-anchor="middle" class="tk">10</text>
<line x1="738.90" y1="433.90" x2="738.90" y2="431.70" stroke="#1c1c1c" stroke-width="1"/>
<line x1="738.90" y1="288.90" x2="738.90" y2="291.10" stroke="#1c1c1c" stroke-width="1"/>
<text x="738.90" y="457.20" text-anchor="middle" class="tk">20</text>
<line x1="616.40" y1="337.23" x2="618.60" y2="337.23" stroke="#1c1c1c" stroke-width="1"/>
<line x1="738.90" y1="337.23" x2="736.70" y2="337.23" stroke="#1c1c1c" stroke-width="1"/>
<text x="610.20" y="344.63" text-anchor="end" class="tk">0</text>
<line x1="616.40" y1="385.57" x2="618.60" y2="385.57" stroke="#1c1c1c" stroke-width="1"/>
<line x1="738.90" y1="385.57" x2="736.70" y2="385.57" stroke="#1c1c1c" stroke-width="1"/>
<text x="610.20" y="392.97" text-anchor="end" class="tk">-4</text>
<line x1="616.40" y1="433.90" x2="618.60" y2="433.90" stroke="#1c1c1c" stroke-width="1"/>
<line x1="738.90" y1="433.90" x2="736.70" y2="433.90" stroke="#1c1c1c" stroke-width="1"/>
<text x="610.20" y="441.30" text-anchor="end" class="tk">-8</text>
<rect x="616.40" y="288.90" width="122.50" height="145.00" fill="none" stroke="#1c1c1c" stroke-width="1.5"/>
<path d="M616.90,339.90 C617.55,339.77 619.57,339.30 620.80,339.10 C622.03,338.90 623.13,339.15 624.30,338.70 C625.47,338.25 626.63,337.37 627.80,336.40 C628.97,335.43 630.13,333.97 631.30,332.90 C632.47,331.83 633.63,330.87 634.80,330.00 C635.97,329.13 637.28,328.67 638.30,327.70 C639.32,326.73 640.03,325.08 640.90,324.20 C641.77,323.32 642.62,322.98 643.50,322.40 C644.38,321.82 645.32,321.87 646.20,320.70 C647.08,319.53 647.93,317.45 648.80,315.40 C649.67,313.35 650.53,310.58 651.40,308.40 C652.27,306.22 653.12,303.97 654.00,302.30 C654.88,300.63 655.87,298.98 656.70,298.40 C657.53,297.82 658.27,297.87 659.00,298.80 C659.73,299.73 660.32,301.82 661.10,304.00 C661.88,306.18 662.83,309.57 663.70,311.90 C664.57,314.23 665.57,315.95 666.30,318.00 C667.03,320.05 667.57,320.40 668.10,324.20 C668.63,328.00 669.07,335.12 669.50,340.80 C669.93,346.48 670.40,352.13 670.70,358.30 C671.00,364.47 670.95,369.90 671.30,377.80 C671.65,385.70 672.23,397.97 672.80,405.70 C673.37,413.43 674.17,419.72 674.70,424.20 C675.23,428.68 675.53,432.60 676.00,432.60 C676.47,432.60 676.95,430.23 677.50,424.20 C678.05,418.17 678.72,405.67 679.30,396.40 C679.88,387.13 680.57,376.33 681.00,368.60 C681.43,360.87 681.60,356.77 681.90,350.00 C682.20,343.23 682.42,334.78 682.80,328.00 C683.18,321.22 683.68,313.53 684.20,309.30 C684.72,305.07 685.32,303.18 685.90,302.60 C686.48,302.02 687.12,303.82 687.70,305.80 C688.28,307.78 688.73,311.30 689.40,314.50 C690.07,317.70 690.93,322.37 691.70,325.00 C692.47,327.63 693.27,329.65 694.00,330.30 C694.73,330.95 695.17,329.78 696.10,328.90 C697.03,328.02 698.43,325.42 699.60,325.00 C700.77,324.58 701.93,326.83 703.10,326.40 C704.27,325.97 705.48,323.15 706.60,322.40 C707.72,321.65 708.78,321.75 709.80,321.90 C710.82,322.05 711.63,322.83 712.70,323.30 C713.77,323.77 715.03,324.65 716.20,324.70 C717.37,324.75 718.38,323.90 719.70,323.60 C721.02,323.30 722.78,323.10 724.10,322.90 C725.42,322.70 726.28,322.57 727.60,322.40 C728.92,322.23 730.68,322.18 732.00,321.90 C733.32,321.62 734.42,321.05 735.50,320.70 C736.58,320.35 738.00,319.95 738.50,319.80" fill="none" stroke="#0072BD" stroke-width="2.6" stroke-linejoin="round" stroke-linecap="round" clip-path="url(#cliph)"/>
<g class="inset" clip-path="url(#ich)">
<rect x="701.10" y="363.20" width="37.80" height="70.70" fill="url(#gh)"/>
<rect x="701.10" y="363.20" width="37.80" height="70.70" fill="url(#ghx)"/>
<path d="M714.7,385.5 Q715.5,400 714.8,414" fill="none" stroke="url(#ghl)" stroke-width="1.2"/><circle cx="704.7" cy="406" r="0.8" fill="#333"/>
<text x="702.10" y="430.10" class="sb" textLength="23.2" lengthAdjust="spacingAndGlyphs">10 μm</text>
<rect x="707.00" y="431.80" width="14.10" height="1.7" fill="#fff"/>
</g>
<path d="M738.90,363.20 L738.90,433.90 L701.10,433.90" fill="none" stroke="#1c1c1c" stroke-width="1.5"/>
<text x="615.10" y="288.60" class="ex">x 10<tspan font-size="10.5" dy="-5.8">-4</tspan></text>
<text x="677.65" y="268.20" text-anchor="middle" class="ti">75 kHz</text>
<text x="577.40" y="279.00" class="lt">h<tspan dx="1.7">)</tspan></text>
<text transform="translate(91.2,110.90) rotate(-90)" text-anchor="middle" class="yl" textLength="70" lengthAdjust="spacingAndGlyphs">Δn (RIU)</text>
<text transform="translate(91.2,377.60) rotate(-90)" text-anchor="middle" class="yl" textLength="70" lengthAdjust="spacingAndGlyphs">Δn (RIU)</text>
<text transform="translate(31.1,110.9) rotate(-90)" text-anchor="middle" class="rl">Gorilla</text>
<text transform="translate(59.8,111) rotate(-90)" text-anchor="middle" class="rl">glass</text>
<text transform="translate(26.4,359.2) rotate(-90)" text-anchor="middle" class="rl2">Tempered</text>
<text transform="translate(53.1,359.7) rotate(-90)" text-anchor="middle" class="rl2">glass</text>
<text x="437.7" y="232.2" text-anchor="middle" class="xl">Position (μm)</text>
<text x="437.7" y="479.7" text-anchor="middle" class="xl">Position (μm)</text>
<text x="500.0" y="311.1" class="an" textLength="26.4" lengthAdjust="spacingAndGlyphs">2 μm</text>
<text x="452.4" y="361.3" class="an2" textLength="53.0" lengthAdjust="spacingAndGlyphs">Shoulder</text>
<line x1="509" y1="317.3" x2="519" y2="317.3" stroke="#000" stroke-width="2.3"/>
<polygon points="504.30,317.30 511.10,314.00 511.10,320.60" fill="#000"/>
<polygon points="523.60,317.30 516.80,320.60 516.80,314.00" fill="#000"/>
<line x1="481.00" y1="344.40" x2="490.02" y2="317.76" stroke="#000" stroke-width="2.8" stroke-dasharray="2.6 2.4"/><polygon points="492.10,311.60 492.85,320.30 486.22,318.06" fill="#000"/>
<line x1="509.80" y1="352.20" x2="525.41" y2="323.32" stroke="#000" stroke-width="2.8" stroke-dasharray="2.6 2.4"/><polygon points="528.50,317.60 527.78,326.30 521.62,322.97" fill="#000"/>
</svg>
</body></html>
